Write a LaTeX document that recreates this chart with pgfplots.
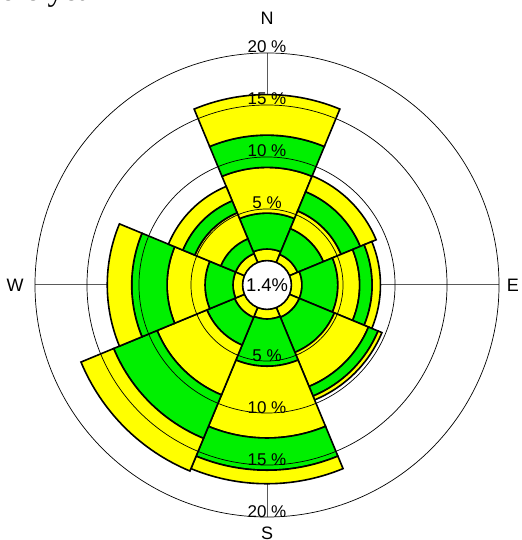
\documentclass[border=0pt]{standalone}
\usepackage{pgfplots}
\usepackage{pgfplotstable}
\pgfplotsset{compat=1.18}
\usepackage{fontspec}
\setmainfont{Liberation Sans}
\newfontfamily\titlefont{Liberation Serif}
\definecolor{ryellow}{RGB}{255,255,0}
\definecolor{rgreen}{RGB}{0,240,0}
\definecolor{axgray}{RGB}{90,90,90}

% cumulative frequency (%) at the outer edge of each speed class, per direction
\pgfplotstableread{
dir c0 c1   c2   c3    c4    c5
0   0  1.15 4.60 9.00  12.10 16.00
45  0  0.87 3.56 5.40  7.40  9.05
90  0  1.05 4.50 6.60  7.80  8.60
135 0  1.05 4.70 8.25  9.25  9.65
180 0  0.96 5.50 12.40 15.50 16.80
225 0  1.06 3.94 9.13  13.65 17.05
270 0  0.96 3.65 7.30  10.70 13.05
315 0  0.96 2.50 5.20  6.45  7.95
}\rose
\def\off{2.31}
\def\unitpt{5.2}

\newcommand\roseband[4]{%
  \pgfplotstablegetelem{#1}{dir}\of\rose \pgfmathsetmacro\dd{\pgfplotsretval}%
  \pgfplotstablegetelem{#1}{#2}\of\rose \pgfmathsetmacro\ra{\pgfplotsretval+\off}%
  \pgfplotstablegetelem{#1}{#3}\of\rose \pgfmathsetmacro\rb{\pgfplotsretval+\off}%
  \pgfmathsetmacro\aone{90-\dd-22.5}%
  \pgfmathsetmacro\atwo{90-\dd+22.5}%
  \pgfmathsetmacro\xa{\ra*cos(\aone)}\pgfmathsetmacro\ya{\ra*sin(\aone)}%
  \pgfmathsetmacro\xb{\rb*cos(\aone)}\pgfmathsetmacro\yb{\rb*sin(\aone)}%
  \pgfmathsetmacro\xc{\ra*cos(\atwo)}\pgfmathsetmacro\yc{\ra*sin(\atwo)}%
  \pgfmathsetmacro\rapt{\ra*\unitpt}\pgfmathsetmacro\rbpt{\rb*\unitpt}%
  \edef\cmd{\noexpand\draw[fill=#4,draw=black,line width=0.8pt,line join=miter] (axis cs:\xa,\ya) -- (axis cs:\xb,\yb) arc[start angle=\aone,end angle=\atwo,radius=\rbpt pt] -- (axis cs:\xc,\yc) arc[start angle=\atwo,end angle=\aone,radius=\rapt pt] -- cycle;}%
  \cmd
}

\begin{document}
\begin{tikzpicture}
\path[use as bounding box] (-133.5pt,-127.5pt) rectangle (127pt,142.5pt);
\begin{axis}[
  anchor=south west, at={(-130pt,-130pt)},
  x=5.2pt, y=5.2pt,
  xmin=-25, xmax=25, ymin=-25, ymax=25,
  hide axis, clip=false,
]
% compass cross (under the sectors)
\draw[axgray, line width=0.5pt] (axis cs:-22.31,0) -- (axis cs:22.31,0);
\draw[axgray, line width=0.5pt] (axis cs:0,-22.31) -- (axis cs:0,22.31);
% sectors
\pgfplotsinvokeforeach{0,...,7}{%
  \roseband{#1}{c0}{c1}{ryellow}%
  \roseband{#1}{c1}{c2}{rgreen}%
  \roseband{#1}{c2}{c3}{ryellow}%
  \roseband{#1}{c3}{c4}{rgreen}%
  \roseband{#1}{c4}{c5}{ryellow}%
}
% grid circles
\draw[line width=0.35pt] (axis cs:0,0) circle[radius=38.01pt];
\draw[line width=0.35pt] (axis cs:0,0) circle[radius=64.01pt];
\draw[line width=0.35pt] (axis cs:0,0) circle[radius=90.01pt];
\draw[line width=0.35pt] (axis cs:0,0) circle[radius=116.01pt];
% calm circle
\draw[fill=white, line width=0.8pt] (axis cs:0,0) circle[radius=12.2pt];
\node[font=\fontsize{9.2}{10}\selectfont, inner sep=0pt] at (axis cs:0,0) {1.4\%};
% ring labels
\node[anchor=base, inner sep=0pt, font=\fontsize{8.5}{10}\selectfont] at (axis cs:0,7.31) {5 \%};
\node[anchor=base, inner sep=0pt, font=\fontsize{8.5}{10}\selectfont] at (axis cs:0,12.31) {10 \%};
\node[anchor=base, inner sep=0pt, font=\fontsize{8.5}{10}\selectfont] at (axis cs:0,17.31) {15 \%};
\node[anchor=base, inner sep=0pt, font=\fontsize{8.5}{10}\selectfont] at (axis cs:0,22.31) {20 \%};
\node[anchor=base, inner sep=0pt, font=\fontsize{8.5}{10}\selectfont] at (axis cs:0,-7.31) {5 \%};
\node[anchor=base, inner sep=0pt, font=\fontsize{8.5}{10}\selectfont] at (axis cs:0,-12.31) {10 \%};
\node[anchor=base, inner sep=0pt, font=\fontsize{8.5}{10}\selectfont] at (axis cs:0,-17.31) {15 \%};
\node[anchor=base, inner sep=0pt, font=\fontsize{8.5}{10}\selectfont] at (axis cs:0,-22.31) {20 \%};
% compass labels
\node[font=\fontsize{9}{10}\selectfont] at (axis cs:0,25.67) {N};
\node[font=\fontsize{9}{10}\selectfont] at (axis cs:0,-23.85) {S};
\node[font=\fontsize{9}{10}\selectfont] at (axis cs:-24.23,0) {W};
\node[font=\fontsize{9}{10}\selectfont] at (axis cs:23.65,0) {E};
% title (cut by the page edge, as in the reference)
\node[anchor=base east, inner sep=0pt, font=\titlefont\fontsize{16}{18}\selectfont] at (axis cs:-15.77,27.36) {Whole year};
\end{axis}
\end{tikzpicture}
\end{document}
